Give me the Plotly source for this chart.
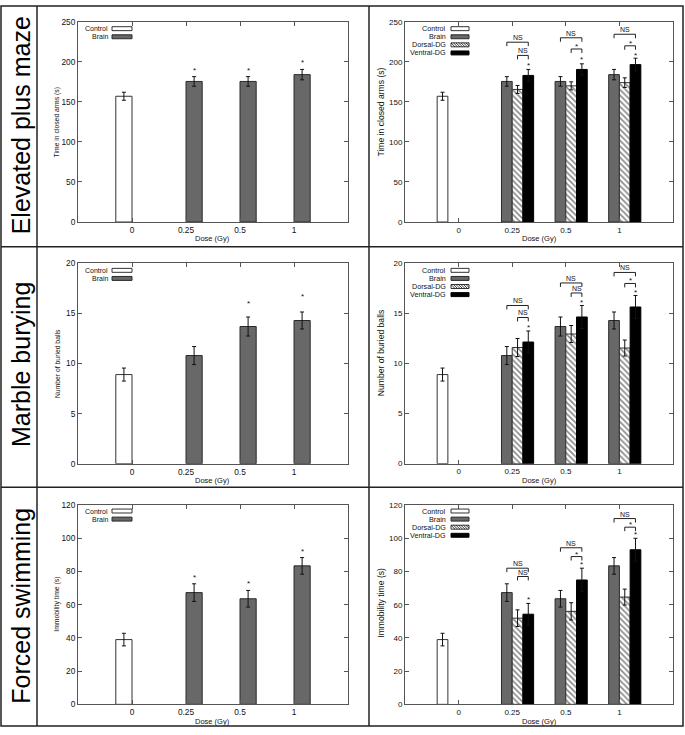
import plotly.graph_objects as go

W, H = 685, 735

# ---------------- data ----------------
dose_labels = ["0", "0.25", "0.5", "1"]
series_names = ["Control", "Brain", "Dorsal-DG", "Ventral-DG"]
row_titles = ["Elevated plus maze", "Marble burying", "Forced swimming"]
y_titles = ["Time in closed arms (s)", "Number of buried balls", "Immobility time (s)"]
x_title = "Dose (Gy)"
y_max = [250, 20, 120]
y_step = [50, 5, 20]

# Elevated plus maze
epm_control = [157, None, None, None]
epm_control_err = [5, None, None, None]
epm_brain = [None, 175.5, 175.5, 184]
epm_brain_err = [None, 6, 6, 6.5]
epm_dorsal = [None, 165.5, 170, 174]
epm_dorsal_err = [None, 5, 5, 6]
epm_ventral = [None, 183, 190.5, 196.5]
epm_ventral_err = [None, 7.5, 7, 8]

# Marble burying
mb_control = [8.9, None, None, None]
mb_control_err = [0.65, None, None, None]
mb_brain = [None, 10.8, 13.7, 14.3]
mb_brain_err = [None, 0.9, 0.95, 0.85]
mb_dorsal = [None, 11.6, 12.95, 11.55]
mb_dorsal_err = [None, 0.9, 0.85, 0.8]
mb_ventral = [None, 12.15, 14.65, 15.65]
mb_ventral_err = [None, 1.1, 1.15, 1.15]

# Forced swimming
fs_control = [39, None, None, None]
fs_control_err = [3.8, None, None, None]
fs_brain = [None, 67.3, 63.6, 83.4]
fs_brain_err = [None, 5.3, 5.0, 5.0]
fs_dorsal = [None, 51.9, 56.0, 64.6]
fs_dorsal_err = [None, 5.0, 5.2, 4.8]
fs_ventral = [None, 54.3, 74.9, 93.1]
fs_ventral_err = [None, 6.5, 7.1, 6.9]

# significance stars (heights of '*')
epm_star_left = [None, 192, 192, 202]
mb_star_left = [None, None, 16.2, 16.9]
fs_star_left = [None, 77.4, 74, 93.3]
epm_star_right = [None, 197.5, 205, 211]
mb_star_right = [None, 13.85, 16.26, 17.3]
fs_star_right = [None, 64.2, 85.3, 103.6]

# comparison brackets (Brain vs Ventral-DG = wide, Dorsal-DG vs Ventral-DG = narrow)
epm_br_wide = [None, 224.5, 230, 234.4]
epm_br_narrow = [None, 208, 216, 220]
epm_br_narrow_lbl = [None, "NS", "*", "*"]
mb_br_wide = [None, 15.8, 18.05, 19.1]
mb_br_narrow = [None, 14.6, 17.05, 18.0]
mb_br_narrow_lbl = [None, "NS", "NS", "*"]
fs_br_wide = [None, 82, 94.3, 111.9]
fs_br_narrow = [None, 77, 89, 106.7]
fs_br_narrow_lbl = [None, "NS", "*", "*"]

rows = [
    dict(vals=[epm_control, epm_brain, epm_dorsal, epm_ventral],
         errs=[epm_control_err, epm_brain_err, epm_dorsal_err, epm_ventral_err],
         star_l=epm_star_left, star_r=epm_star_right,
         bw=epm_br_wide, bn=epm_br_narrow, bnl=epm_br_narrow_lbl),
    dict(vals=[mb_control, mb_brain, mb_dorsal, mb_ventral],
         errs=[mb_control_err, mb_brain_err, mb_dorsal_err, mb_ventral_err],
         star_l=mb_star_left, star_r=mb_star_right,
         bw=mb_br_wide, bn=mb_br_narrow, bnl=mb_br_narrow_lbl),
    dict(vals=[fs_control, fs_brain, fs_dorsal, fs_ventral],
         errs=[fs_control_err, fs_brain_err, fs_dorsal_err, fs_ventral_err],
         star_l=fs_star_left, star_r=fs_star_right,
         bw=fs_br_wide, bn=fs_br_narrow, bnl=fs_br_narrow_lbl),
]

# ---------------- styling ----------------
FONT = "Liberation Sans, Arial, Helvetica, sans-serif"
TXT = "#111111"
AXC = "#555555"
fills = ["#ffffff", "#686868", "#ffffff", "#000000"]
lines = ["#333333", "#2a2a2a", "#333333", "#000000"]

def px(x):
    return x / W

def py(y):
    return 1 - y / H

col_x = [(78, 348), (405, 673)]
row_y = [(17, 220), (262, 465), (507, 709)]
row_off = [0, 245, 489]

# bar geometry in category units
left_w = 0.3
left_off = [-0.3, 0.0]
right_w = 0.2
right_off = [-0.4, -0.2, 0.0, 0.2]

fig = go.Figure()
layout = {}
annotations = []
shapes = []

xs = list(range(len(dose_labels)))

def ann(**kw):
    kw.setdefault("showarrow", False)
    kw.setdefault("xanchor", "center")
    kw.setdefault("yanchor", "middle")
    annotations.append(kw)

for r, rd in enumerate(rows):
    for c in range(2):
        n = r * 2 + c + 1
        xa = "x" if n == 1 else f"x{n}"
        ya = "y" if n == 1 else f"y{n}"
        tick_size = 8.3 if c == 0 else 8
        layout["xaxis" if n == 1 else f"xaxis{n}"] = dict(
            domain=[px(col_x[c][0]), px(col_x[c][1])], anchor=ya,
            range=[-1, 4], tickvals=xs, ticktext=dose_labels,
            showline=True, linecolor=AXC, linewidth=1, mirror="ticks",
            ticks="inside", ticklen=4, tickcolor=AXC, showgrid=False, zeroline=False,
            tickfont=dict(family=FONT, size=tick_size, color=TXT), fixedrange=True)
        layout["yaxis" if n == 1 else f"yaxis{n}"] = dict(
            domain=[py(row_y[r][1]), py(row_y[r][0])], anchor=xa,
            range=[0, y_max[r]], dtick=y_step[r], tick0=0,
            showline=True, linecolor=AXC, linewidth=1, mirror="ticks",
            ticks="inside", ticklen=4, tickcolor=AXC, showgrid=False, zeroline=False,
            tickfont=dict(family=FONT, size=tick_size, color=TXT), fixedrange=True)

        n_series = 2 if c == 0 else 4
        width = left_w if c == 0 else right_w
        offs = left_off if c == 0 else right_off
        for s in range(n_series):
            marker = dict(color=fills[s], line=dict(color=lines[s], width=1))
            if s == 2:
                marker["pattern"] = dict(shape="\\", fgcolor="#111111", bgcolor="#ffffff",
                                         size=4, solidity=0.4)
            fig.add_trace(go.Bar(
                x=xs, y=rd["vals"][s], width=width, offset=offs[s],
                marker=marker, xaxis=xa, yaxis=ya, showlegend=False,
                error_y=dict(type="data", array=rd["errs"][s], visible=True,
                             color="#111111", thickness=1, width=2),
                name=series_names[s]))

        # stars
        if c == 0:
            star = rd["star_l"]
            sx = [i + offs[1] + width / 2 for i in xs]
        else:
            star = rd["star_r"]
            sx = [i + offs[3] + width / 2 for i in xs]
        for i in xs:
            if star[i] is not None:
                ann(x=sx[i], y=star[i], xref=xa, yref=ya, text="*", yshift=-2,
                    font=dict(family=FONT, size=8, color=TXT))

        # brackets
        if c == 1:
            ppu = (row_y[r][1] - row_y[r][0]) / y_max[r]
            leg = 4 / ppu
            bx, by = [], []
            for i in xs:
                if rd["bw"][i] is None:
                    continue
                xb = i + offs[1] + width / 2
                xd = i + offs[2] + width / 2
                xv = i + offs[3] + width / 2
                yw = rd["bw"][i]
                yn = rd["bn"][i]
                bx += [xb, xb, xv, xv, None, xd, xd, xv, xv, None]
                by += [yw - leg, yw, yw, yw - leg, None, yn - leg, yn, yn, yn - leg, None]
                ann(x=(xb + xv) / 2, y=yw, xref=xa, yref=ya, text="NS",
                    yanchor="bottom", yshift=-1,
                    font=dict(family=FONT, size=7, color=TXT))
                lbl = rd["bnl"][i]
                ann(x=(xd + xv) / 2, y=yn, xref=xa, yref=ya, text=lbl,
                    yanchor="bottom", yshift=-1 if lbl == "NS" else -4,
                    font=dict(family=FONT, size=7 if lbl == "NS" else 8, color=TXT))
            fig.add_trace(go.Scatter(x=bx, y=by, mode="lines", xaxis=xa, yaxis=ya,
                                     line=dict(color="#222222", width=1),
                                     showlegend=False, hoverinfo="skip"))

        # axis titles
        cx = (col_x[c][0] + col_x[c][1]) / 2
        ann(x=px(cx), y=py(row_off[r] + 237), xref="paper", yref="paper",
            text=x_title, font=dict(family=FONT, size=7.5, color=TXT))
        if c == 0:
            ytx = 57
            ytc = row_off[r] + 119
            yfs = 6.8
        else:
            ytx = 381
            ytc = row_off[r] + [109, 108, 117][r]
            yfs = 8.6
        ann(x=px(ytx), y=py(ytc), xref="paper", yref="paper",
            text=y_titles[r], textangle=-90,
            font=dict(family=FONT, size=yfs, color=TXT))

        # custom key (text followed by swatch)
        if c == 0:
            t_right, sw0, sw1, kfs = 110, 112, 132, 7.0
        else:
            t_right, sw0, sw1, kfs = 448, 451, 469, 7.2
        for s in range(n_series):
            yc = row_off[r] + 24 + s * 8.2
            ann(x=px(t_right), y=py(yc), xref="paper", yref="paper",
                text=series_names[s], xanchor="right",
                font=dict(family=FONT, size=kfs, color=TXT))
            shapes.append(dict(type="rect", xref="paper", yref="paper",
                               x0=px(sw0), x1=px(sw1), y0=py(yc - 2), y1=py(yc + 2),
                               fillcolor=fills[s], line=dict(color=lines[s], width=1)))
            if s == 2:
                k = sw0
                while k < sw1:
                    xe = min(k + 4, sw1)
                    ye = yc - 2 + (xe - k)
                    shapes.append(dict(type="line", xref="paper", yref="paper",
                                       x0=px(k), y0=py(yc - 2), x1=px(xe), y1=py(ye),
                                       line=dict(color="#111111", width=0.8)))
                    k += 2.5

    # row title
    ann(x=px(21), y=py(row_off[r] + [122, 120, 120][r]), xref="paper",
        yref="paper", text=row_titles[r], textangle=-90,
        font=dict(family=FONT, size=25, color="#000000"))

# frame lines
FR = dict(color="#222222", width=1.5)
shapes.append(dict(type="rect", xref="paper", yref="paper", x0=px(1), x1=px(683),
                   y0=py(731), y1=py(1), line=FR))
for xv in (37, 369):
    shapes.append(dict(type="line", xref="paper", yref="paper", x0=px(xv), x1=px(xv),
                       y0=py(1), y1=py(731), line=FR))
for yv in (245, 489):
    shapes.append(dict(type="line", xref="paper", yref="paper", x0=px(1), x1=px(683),
                       y0=py(yv), y1=py(yv), line=FR))

fig.update_layout(
    width=W, height=H, margin=dict(l=0, r=0, t=0, b=0),
    paper_bgcolor="white", plot_bgcolor="white", barmode="overlay",
    showlegend=False, annotations=annotations, shapes=shapes,
    font=dict(family=FONT, color=TXT), **layout)

fig.write_html("out.html", config={"displayModeBar": False},
               post_script="document.body.style.margin='0';document.body.style.overflow='hidden';")
